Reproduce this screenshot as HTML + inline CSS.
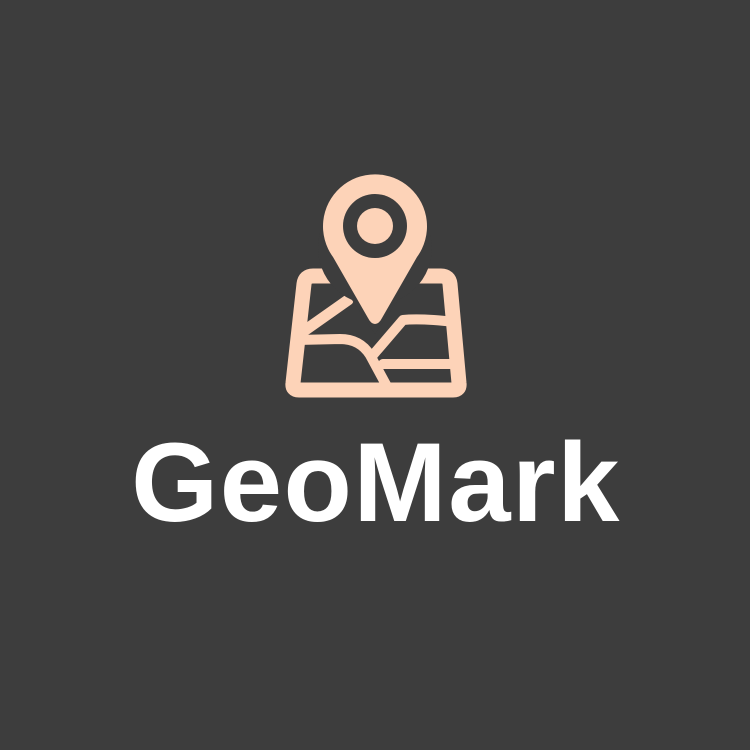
<!DOCTYPE html>
<html><head><meta charset="utf-8"><style>
html,body{margin:0;padding:0;background:#3d3d3d;}
#root{position:relative;width:750px;height:750px;background:#3d3d3d;overflow:hidden;}
svg{position:absolute;left:0;top:0;}
</style></head><body>
<div id="root">
<svg width="750" height="750" viewBox="0 0 750 750">
  <g fill="none" stroke="#fdd3b8" stroke-linejoin="round" stroke-linecap="round">
    <path d="M313 276 L441 276 Q449 276 450 284 L459 383 Q460 390 453 390 L299 390 Q292 390 293 383 L304 284 Q305 276 313 276 Z" stroke-width="15"/>
    <path d="M304 331 L348 300" stroke-width="11"/>
    <path d="M297 340 L340 339 Q360 339 370 355 L390 392" stroke-width="10"/>
    <path d="M373 355 L403 320 Q420 318 455 322" stroke-width="10"/>
    <path d="M383 364 L458 364" stroke-width="10"/>
  </g>
  <g>
    <path d="M375 334 L352 300 A57 57 0 1 1 398 300 Z" fill="#3d3d3d"/>
    <path d="M375 324 Q371 324 368 318 L333 257 A52 52 0 1 1 417 257 L382 318 Q379 324 375 324 Z" fill="#fdd3b8"/>
    <circle cx="375" cy="226" r="32" fill="#3d3d3d"/>
    <circle cx="375" cy="226" r="18" fill="#fdd3b8"/>
  </g>
  <text x="376" y="521" text-anchor="middle" font-family="'Liberation Sans', sans-serif" font-weight="bold" font-size="112" letter-spacing="1.5" fill="#ffffff">GeoMark</text>
</svg>
</div>
</body></html>
